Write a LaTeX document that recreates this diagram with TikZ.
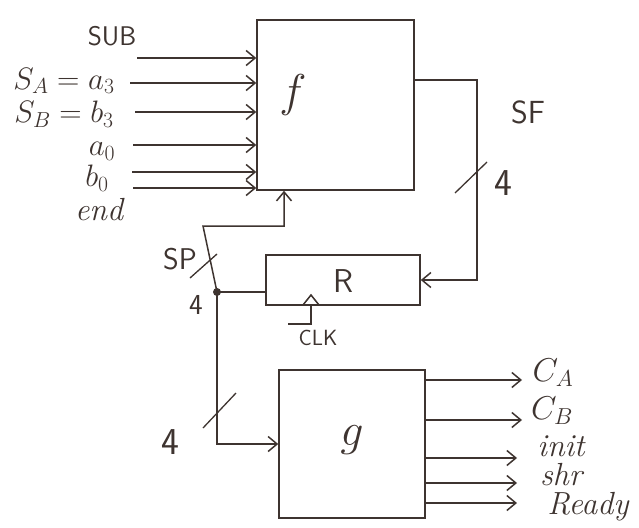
\RequirePackage{fix-cm}
\documentclass[tikz,border=0pt]{standalone}
\usetikzlibrary{arrows.meta}
\definecolor{ink}{RGB}{62,52,48}
\begin{document}
\begin{tikzpicture}[x=1pt,y=-1pt,line width=1.5pt,color=ink,
  box/.style={draw,rectangle,inner sep=0pt},
  arr/.style={-{Straight Barb[length=9pt,width=15pt]}},
  every node/.append style={inner sep=0pt},
  lbl/.style={font=\fontsize{27}{29}\selectfont\sffamily},
  numlbl/.style={font=\fontsize{38}{40}\selectfont\sffamily},
  mlbl/.style={font=\fontsize{31}{33}\selectfont},
  slbl/.style={font=\fontsize{33}{35}\selectfont},
  ilbl/.style={font=\fontsize{31}{33}\selectfont},
  wlbl/.style={font=\fontsize{32}{34}\selectfont\itshape},
  big/.style={font=\fontsize{46}{48}\selectfont\itshape},
  slash/.style={line width=1.3pt}]
\useasboundingbox (0,0) rectangle (639,527);
\fill[white] (0,0) rectangle (639,527);
% blocks
\node[box,minimum width=157pt,minimum height=170pt] (f) at (335.5,105) {};
\node[big] (flbl) at (293,95) {$f$};
\node[box,minimum width=154pt,minimum height=50pt] (R) at (343,280) {};
\node[font=\fontsize{33}{35}\selectfont\sffamily] (Rlbl) at (343,281) {R};
\node[box,minimum width=146pt,minimum height=148pt] (g) at (352,444) {};
\node[big] (glbl) at (352,440) {$g$};
% inputs of f
\coordinate (i1) at (137,58);
\coordinate (i2) at (130,83);
\coordinate (i3) at (135,112);
\coordinate (i4) at (133,145);
\coordinate (i5) at (132,172);
\coordinate (i6) at (133,188);
\foreach \c in {i1,i2,i3,i4,i5,i6} \draw[arr] (\c) -- (\c -| f.west);
\node[lbl] (lsub) at (112,36) {SUB};
\node[mlbl] (lsa) at (64,81) {$S_A = a_3$};
\node[mlbl] (lsb) at (64,114) {$S_B = b_3$};
\node[ilbl] (la0) at (102,151) {$a_0$};
\node[ilbl] (lb0) at (97,178) {$b_0$};
\node[wlbl] (lend) at (99,210) {end};
% SF feedback
\coordinate (sf) at (477,80);
\draw[arr] (sf -| f.east) -- (sf) -- (sf |- R.east) -- (R.east);
\draw[slash] (455,193) -- (487,162);
\node[numlbl] (l4a) at (503,183) {4};
\node[font=\fontsize{32}{34}\selectfont\sffamily] (lsf) at (528,112) {SF};
% SP
\coordinate (dot) at (217,292);
\coordinate (sp) at (203,226);
\coordinate (fin) at (284,226);
\fill (dot) circle (4pt);
\draw[arr] (dot) -- (sp) -- (fin) -- (fin |- f.south);
\draw (dot) -- (dot -| R.west);
\draw[slash] (190,278) -- (217,254);
\node[font=\fontsize{29}{31}\selectfont\sffamily] (l4b) at (196,305) {4};
\node[font=\fontsize{30}{32}\selectfont\sffamily] (lsp) at (180,259) {SP};
% clock
\coordinate (clk) at (311,305);
\draw (303,305) -- (311,295) -- (319,305);
\draw (clk) -- (311,324) -- (288,324);
\node[font=\fontsize{22}{24}\selectfont\sffamily] (lclk) at (318,338) {CLK};
% to g
\draw[arr] (dot) -- (dot |- g.west) -- (g.west);
\draw[slash] (203,428) -- (236,393);
\node[numlbl] (l4c) at (170,442) {4};
% outputs of g
\coordinate (o1) at (522,380);
\coordinate (o2) at (522,420);
\coordinate (o3) at (517,458);
\coordinate (o4) at (517,483);
\coordinate (o5) at (517,503);
\foreach \c in {o1,o2,o3,o4,o5} \draw[arr] (\c -| g.east) -- (\c);
\node[slbl] (lca) at (553,373) {$C_A$};
\node[slbl] (lcb) at (552,411) {$C_B$};
\node[wlbl] (linit) at (561,446) {init};
\node[wlbl] (lshr) at (561,475) {shr};
\node[wlbl] (lrdy) at (588,507) {Ready};
\end{tikzpicture}
\end{document}
